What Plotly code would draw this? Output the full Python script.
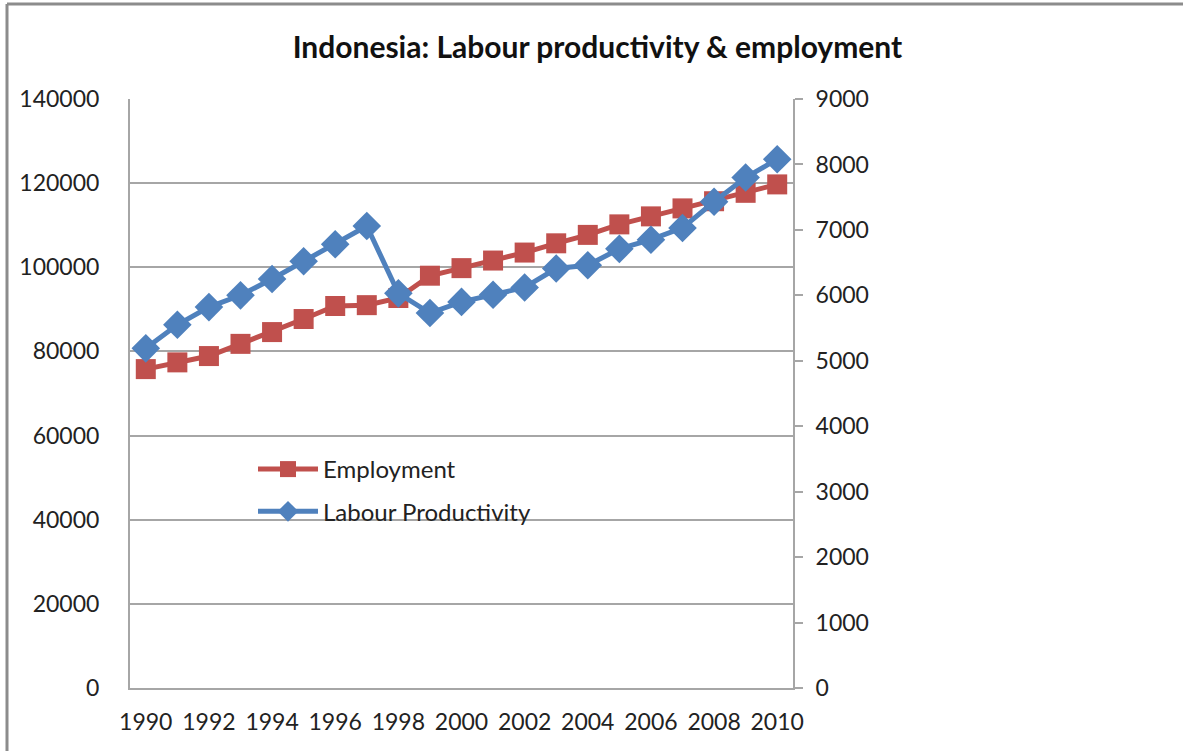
import plotly.graph_objects as go

years = [str(y) for y in range(1990, 2011)]
employment = [75800, 77400, 78900, 81800, 84600, 87700, 90800, 91000, 92700,
              98000, 99800, 101600, 103500, 105700, 107700, 110200, 112100,
              114000, 115700, 117700, 119700]
productivity = [5190, 5550, 5820, 6000, 6250, 6520, 6780, 7060, 6030, 5730,
                5900, 6010, 6120, 6410, 6460, 6710, 6850, 7030, 7430, 7800,
                8080]
xtick_labels = [str(y) for y in range(1990, 2011, 2)]
left_ticks = list(range(0, 140001, 20000))
left_ticktext = [str(v) for v in left_ticks]
right_ticks = list(range(0, 9001, 1000))
right_ticktext = [str(v) for v in right_ticks]

RED = "#C0504D"
BLUE = "#4F81BD"
GRID = "#A6A6A6"
FONT = "Lato"

fig = go.Figure()
fig.add_trace(go.Scatter(
    x=years, y=employment, name="Employment", mode="lines+markers",
    line=dict(color=RED, width=5),
    marker=dict(symbol="square", size=20, color=RED),
    legendgroup="a", yaxis="y"))
fig.add_trace(go.Scatter(
    x=years, y=productivity, name="Labour Productivity", mode="lines+markers",
    line=dict(color=BLUE, width=5),
    marker=dict(symbol="diamond", size=22, color=BLUE),
    legendgroup="b", yaxis="y2"))

L, R, T, B = 130, 390, 99, 63
W, H = 1183, 751
pw, ph = W - L - R, H - T - B

def px(xp):
    return (xp - L) / pw

def py(yp):
    return (H - B - yp) / ph

fig.update_layout(
    width=W, height=H,
    margin=dict(l=L, r=R, t=T, b=B),
    paper_bgcolor="white", plot_bgcolor="white",
    font=dict(family=FONT, size=23, color="#222222"),
    title=dict(text="<b>Indonesia: Labour productivity &amp; employment</b>",
               x=0.505, xref="container", xanchor="center",
               y=1 - 47 / H, yref="container", yanchor="middle",
               font=dict(family=FONT, size=30, color="#111111")),
    xaxis=dict(type="category", range=[-0.5, 20.5],
               tickmode="array", tickvals=xtick_labels, ticktext=xtick_labels,
               showgrid=False, showline=True, linecolor=GRID, linewidth=2,
               ticks="", ticklabelstandoff=12, zeroline=False),
    yaxis=dict(range=[0, 140000], tickmode="array", tickvals=left_ticks,
               ticktext=left_ticktext,
               showgrid=True, gridcolor=GRID, gridwidth=1.5,
               showline=True, linecolor=GRID, linewidth=2,
               ticks="", ticklabelstandoff=24, zeroline=False),
    yaxis2=dict(range=[0, 9000], tickmode="array", tickvals=right_ticks,
                ticktext=right_ticktext, overlaying="y",
                side="right", showgrid=False, showline=True, linecolor=GRID,
                linewidth=2, ticks="outside", ticklen=8, tickcolor=GRID,
                tickwidth=1.5, ticklabelstandoff=8, zeroline=False),
    legend=dict(x=px(253), y=py(447), xanchor="left", yanchor="top",
                bgcolor="rgba(0,0,0,0)", itemwidth=60, tracegroupgap=8,
                font=dict(family=FONT, size=24, color="#222222")),
    showlegend=True,
    shapes=[
        dict(type="line", xref="paper", yref="paper",
             x0=px(7), x1=px(W), y0=py(4), y1=py(4),
             line=dict(color="#8C8C8C", width=3)),
        dict(type="line", xref="paper", yref="paper",
             x0=px(7), x1=px(7), y0=py(4), y1=py(H),
             line=dict(color="#8C8C8C", width=3)),
    ],
)

fig.write_html("out.html",
               config={"displayModeBar": False},
               post_script="document.body.style.margin='0px';"
                           "document.body.style.padding='0px';")
